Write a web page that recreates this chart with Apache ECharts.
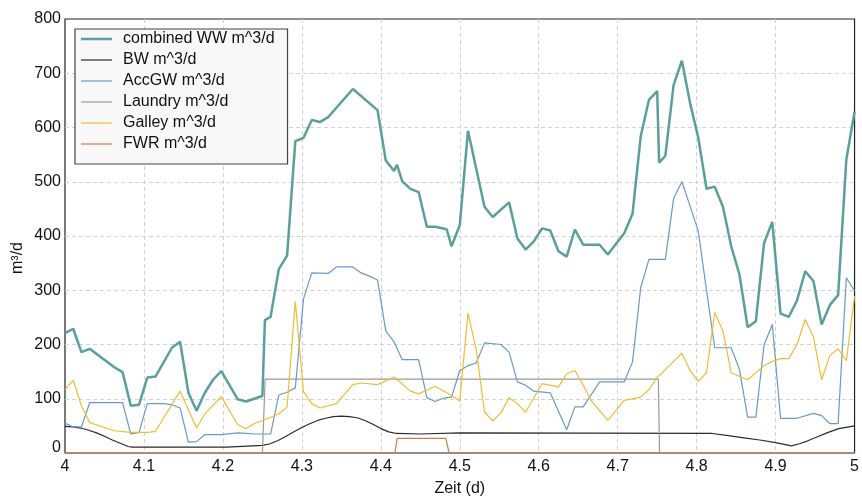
<!DOCTYPE html>
<html><head><meta charset="utf-8">
<script src="https://cdn.jsdelivr.net/npm/echarts@6/dist/echarts.min.js"></script>
<style>html,body{margin:0;padding:0;background:#fff}#c{width:862px;height:502px}</style>
</head><body><div id="c"></div><script>
// time (d) / value (m^3/d) pairs
const combinedWW = [[4.0000,221],[4.0104,229],[4.0208,186],[4.0313,192],[4.0625,158],[4.0729,149],[4.0833,87],[4.0938,89],[4.1042,139],[4.1146,141],[4.1354,194],[4.1458,205],[4.1563,111],[4.1667,78],[4.1771,111],[4.1875,135],[4.1979,151],[4.2188,99],[4.2292,95],[4.2500,105],[4.2532,245],[4.2604,251],[4.2708,339],[4.2813,364],[4.2917,575],[4.3021,581],[4.3125,614],[4.3229,610],[4.3333,619],[4.3646,671],[4.3958,632],[4.4063,539],[4.4167,520],[4.4205,531],[4.4271,501],[4.4375,487],[4.4479,481],[4.4583,417],[4.4688,417],[4.4792,414],[4.4835,412],[4.4896,381],[4.5000,420],[4.5104,594],[4.5313,454],[4.5417,435],[4.5625,462],[4.5729,396],[4.5833,375],[4.5938,390],[4.6042,414],[4.6146,410],[4.6250,372],[4.6354,362],[4.6458,412],[4.6563,384],[4.6771,384],[4.6875,366],[4.7083,405],[4.7188,441],[4.7292,584],[4.7396,651],[4.7500,667],[4.7525,535],[4.7604,548],[4.7708,678],[4.7813,723],[4.7917,645],[4.8021,581],[4.8125,487],[4.8229,491],[4.8333,454],[4.8438,381],[4.8542,329],[4.8646,232],[4.8750,243],[4.8854,387],[4.8958,426],[4.9063,257],[4.9167,251],[4.9271,281],[4.9375,335],[4.9479,317],[4.9583,237],[4.9688,273],[4.9792,291],[4.9896,541],[5.0000,629]];
const bw = [[4.00,49],[4.01,48],[4.02,46],[4.03,42],[4.04,37],[4.05,31],[4.06,24],[4.07,18],[4.08,12],[4.085,11],[4.205,11],[4.207,14],[4.25,14],[4.26,17],[4.27,23],[4.28,31],[4.29,39],[4.30,47],[4.31,54],[4.32,60],[4.33,64],[4.34,67],[4.35,68],[4.36,67],[4.37,65],[4.38,60],[4.39,53],[4.40,45],[4.41,39],[4.42,36],[4.45,35],[4.50,37],[4.82,36],[4.84,32],[4.86,28],[4.88,24],[4.90,19],[4.92,13],[4.93,17],[4.94,22],[4.95,28],[4.965,37],[4.98,45],[5.00,50]];
const accGW = [[4.0000,55],[4.0104,48],[4.0208,48],[4.0313,93],[4.0729,93],[4.0833,35],[4.0938,38],[4.1042,91],[4.1250,91],[4.1354,89],[4.1458,83],[4.1563,20],[4.1667,21],[4.1771,34],[4.1979,34],[4.2188,37],[4.2292,36],[4.2396,35],[4.2604,35],[4.2708,107],[4.2813,112],[4.2917,120],[4.3021,284],[4.3125,332],[4.3333,331],[4.3438,343],[4.3646,343],[4.3750,332],[4.3854,326],[4.3958,319],[4.4063,225],[4.4167,205],[4.4271,172],[4.4479,172],[4.4583,102],[4.4688,95],[4.4792,101],[4.4896,103],[4.5000,152],[4.5104,161],[4.5208,166],[4.5313,203],[4.5521,200],[4.5625,186],[4.5729,131],[4.5833,125],[4.5938,114],[4.6146,111],[4.6354,43],[4.6458,85],[4.6563,85],[4.6771,131],[4.7083,131],[4.7188,168],[4.7292,305],[4.7396,357],[4.7604,357],[4.7708,469],[4.7813,500],[4.7917,455],[4.8021,409],[4.8125,300],[4.8229,194],[4.8438,194],[4.8542,154],[4.8646,66],[4.8750,66],[4.8854,199],[4.8958,237],[4.9063,64],[4.9271,64],[4.9479,73],[4.9583,69],[4.9688,54],[4.9792,54],[4.9896,323],[5.0000,299]];
const laundry = [[4.0,0],[4.25,0],[4.2535,136],[4.7515,136],[4.753,0],[5.0,0]];
const galley = [[4.0000,117],[4.0104,134],[4.0208,87],[4.0313,56],[4.0625,41],[4.0833,38],[4.1042,38],[4.1146,40],[4.1458,114],[4.1667,46],[4.1771,72],[4.1979,104],[4.2188,52],[4.2292,45],[4.2396,54],[4.2500,60],[4.2604,66],[4.2708,72],[4.2813,85],[4.2917,279],[4.3021,113],[4.3125,91],[4.3229,83],[4.3438,91],[4.3646,126],[4.3750,129],[4.3958,126],[4.4167,140],[4.4375,114],[4.4479,109],[4.4688,123],[4.4896,106],[4.5000,96],[4.5104,258],[4.5208,191],[4.5313,76],[4.5417,59],[4.5521,74],[4.5625,102],[4.5729,91],[4.5833,75],[4.6042,128],[4.6250,122],[4.6354,146],[4.6458,152],[4.6563,125],[4.6667,96],[4.6875,60],[4.7083,97],[4.7292,103],[4.7396,117],[4.7500,139],[4.7813,184],[4.7917,152],[4.8021,132],[4.8125,148],[4.8229,259],[4.8333,225],[4.8438,148],[4.8646,135],[4.8854,161],[4.8958,169],[4.9063,174],[4.9167,174],[4.9271,200],[4.9375,246],[4.9479,214],[4.9583,135],[4.9688,180],[4.9792,192],[4.9896,170],[5.0000,289]];
const fwr = [[4.0,0],[4.4177,0],[4.4207,27],[4.4823,27],[4.4865,0],[5.0,0]];
const seriesNames = ['combined WW m^3/d','BW m^3/d','AccGW m^3/d','Laundry m^3/d','Galley m^3/d','FWR m^3/d'];
const xTitle = 'Zeit (d)';
const yTitle = 'm³/d';

const FONT = '"Liberation Sans", Arial, Helvetica, sans-serif';
const chart = echarts.init(document.getElementById('c'), null, {renderer: 'canvas'});
const mk = (name, data, color, width) => ({
  name, type: 'line', data, symbol: 'none', showSymbol: false, clip: false,
  lineStyle: {color, width}, itemStyle: {color}, emphasis: {disabled: true}
});
const thick = 'path://M0,0H62V5H0Z';
const thin = 'path://M0,0H62V2.4H0Z';
const axisLbl = {color: '#111', fontSize: 16, fontFamily: FONT};
chart.setOption({
  animation: false,
  grid: {left: 65, right: 7, top: 19, bottom: 42.5, show: true, borderColor: '#222', borderWidth: 1.2},
  xAxis: {
    type: 'value', min: 4, max: 5, interval: 0.1,
    axisLine: {show: false}, axisTick: {show: false},
    axisLabel: Object.assign({margin: 6, formatter: v => String(+v.toFixed(1))}, axisLbl),
    splitLine: {show: true, showMinLine: false, showMaxLine: false, lineStyle: {color: '#d2d2d2', type: [4, 3], width: 1}},
    name: xTitle, nameLocation: 'middle', nameGap: 28,
    nameTextStyle: {color: '#111', fontSize: 16, fontFamily: FONT}
  },
  yAxis: {
    type: 'value', min: 0, max: 800, interval: 100,
    axisLine: {show: false}, axisTick: {show: false},
    axisLabel: Object.assign({margin: 4, formatter: v => v === 0 ? '{z|0}' : String(v),
      rich: {z: {fontSize: 16, fontFamily: FONT, color: '#111', padding: [0, 0, 10, 0]}}}, axisLbl),
    splitLine: {show: true, showMinLine: false, showMaxLine: false, lineStyle: {color: '#d2d2d2', type: [4, 3], width: 1}}
  },
  graphic: [{
    type: 'text', x: 18, y: 258, rotation: Math.PI / 2,
    style: {text: yTitle, fill: '#111', font: '16px ' + FONT, align: 'center', verticalAlign: 'middle'}
  }],
  legend: {
    orient: 'vertical', left: 75, top: 29, itemWidth: 31, itemHeight: 14, itemGap: 5,
    symbolKeepAspect: true,
    padding: [2, 13, 12, 6], backgroundColor: '#f8f8f8', borderColor: '#444', borderWidth: 1.2,
    textStyle: {fontSize: 16, fontFamily: FONT, color: '#111', lineHeight: 16, padding: [0, 0, 0, 6]},
    data: seriesNames.map((n, i) => ({name: n, icon: i === 0 ? thick : thin}))
  },
  series: [
    mk(seriesNames[0], combinedWW, '#5b9f9c', 2.5),
    mk(seriesNames[1], bw, '#2b2b2b', 1.2),
    mk(seriesNames[2], accGW, '#6898cc', 1.2),
    mk(seriesNames[3], laundry, '#9a9a9a', 1.2),
    mk(seriesNames[4], galley, '#f1bb33', 1.2),
    mk(seriesNames[5], fwr, '#c57f4f', 1.2)
  ]
});
</script></body></html>
